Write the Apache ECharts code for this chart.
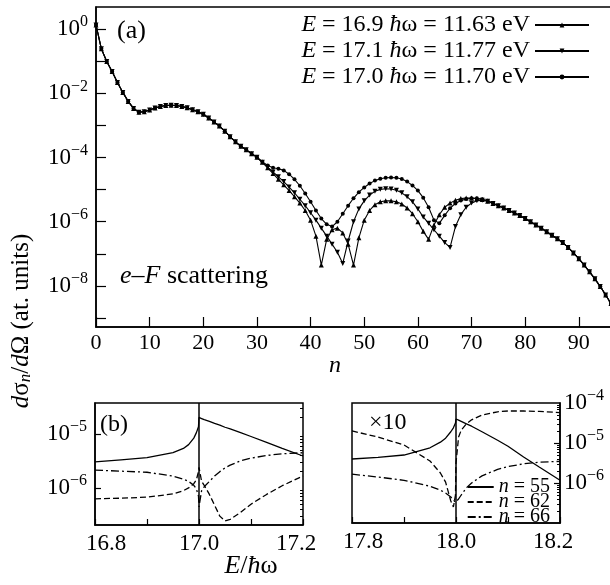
<!DOCTYPE html>
<html>
<head>
<meta charset="utf-8">
<script src="https://cdn.jsdelivr.net/npm/echarts@6/dist/echarts.min.js"></script>
<style>html,body{margin:0;padding:0;background:#fff}#chart{width:610px;height:585px}</style>
</head>
<body>
<div id="chart"></div>
<script>
// harmonic number n (panel a)
const nIndex = [0,1,2,3,4,5,6,7,8,9,10,11,12,13,14,15,16,17,18,19,20,21,22,23,24,25,26,27,28,29,30,
  31,32,33,34,35,36,37,38,39,40,41,42,43,44,45,46,47,48,49,50,51,52,53,54,55,56,57,58,59,60,
  61,62,63,64,65,66,67,68,69,70,71,72,73,74,75,76,77,78,79,80,81,82,83,84,85,86,87,88,89,90,
  91,92,93,94,95,96]

// n = 0..30, same for all three energies
const headAll = [1.35,2.45e-1,9.8e-2,4.79e-2,2.19e-2,1.07e-2,5.62e-3,3.39e-3,2.57e-3,2.69e-3,3.02e-3,
  3.47e-3,3.89e-3,4.17e-3,4.27e-3,4.17e-3,3.89e-3,3.55e-3,3.09e-3,2.69e-3,2.24e-3,
  1.70e-3,1.29e-3,9.55e-4,6.61e-4,4.47e-4,3.09e-4,2.24e-4,1.74e-4,1.32e-4,1.02e-4]
// n = 31..74
const mid169 = [7.08e-5,4.79e-5,3.16e-5,2.09e-5,1.41e-5,9.33e-6,6.03e-6,3.80e-6,2.24e-6,1.12e-6,
  3.55e-7,4.47e-8,2.82e-7,5.62e-7,6.31e-7,4.47e-7,2.00e-7,4.47e-8,3.16e-7,1.12e-6,
  2.24e-6,3.39e-6,4.17e-6,4.47e-6,4.47e-6,4.17e-6,3.55e-6,2.69e-6,1.78e-6,1.0e-6,
  5.01e-7,2.82e-7,7.94e-7,1.66e-6,2.82e-6,3.80e-6,4.68e-6,5.25e-6,5.50e-6,5.50e-6,
  5.25e-6,4.90e-6,4.37e-6,3.72e-6]
const mid171 = [7.08e-5,5.01e-5,3.55e-5,2.51e-5,1.78e-5,1.20e-5,7.94e-6,5.01e-6,3.16e-6,1.91e-6,
  1.12e-6,6.31e-7,3.55e-7,2.00e-7,1.12e-7,5.01e-8,2.51e-7,1.0e-6,2.51e-6,4.47e-6,
  6.76e-6,8.91e-6,1.02e-5,1.07e-5,1.05e-5,9.55e-6,7.94e-6,6.03e-6,4.17e-6,2.51e-6,
  1.41e-6,8.91e-7,5.62e-7,3.55e-7,2.24e-7,1.58e-7,7.08e-7,1.66e-6,2.82e-6,3.80e-6,
  4.47e-6,4.68e-6,4.37e-6,3.72e-6]
const mid170 = [7.41e-5,5.62e-5,4.79e-5,4.47e-5,3.98e-5,3.02e-5,2.09e-5,1.32e-5,7.59e-6,4.17e-6,
  2.24e-6,1.26e-6,8.32e-7,7.08e-7,1.0e-6,1.78e-6,3.16e-6,5.37e-6,8.32e-6,1.17e-5,
  1.55e-5,1.91e-5,2.19e-5,2.34e-5,2.40e-5,2.34e-5,2.14e-5,1.78e-5,1.35e-5,9.33e-6,
  5.62e-6,2.82e-6,1.12e-6,8.91e-7,1.58e-6,2.63e-6,3.72e-6,4.57e-6,5.13e-6,5.37e-6,
  5.37e-6,5.01e-6,4.47e-6,3.80e-6]
// n = 75..96, same for all three
const tailAll = [3.16e-6,2.69e-6,2.24e-6,1.86e-6,1.55e-6,1.26e-6,1.0e-6,7.94e-7,6.31e-7,4.90e-7,
  3.80e-7,2.95e-7,2.24e-7,1.58e-7,1.07e-7,7.08e-8,4.47e-8,2.75e-8,1.66e-8,9.55e-9,5.25e-9,2.82e-9]

const names = ['E = 16.9 ħω = 11.63 eV', 'E = 17.1 ħω = 11.77 eV', 'E = 17.0 ħω = 11.70 eV']

// panel (b), left: E/ħω near 17
const eLeft = [16.80,16.85,16.90,16.95,16.97,16.98,16.99,16.995,16.999,17.0,17.005,17.01,17.02,17.03,17.04,17.05,17.06,17.08,17.10,17.13,17.16,17.20]
const n55Left = [3.02e-6,3.31e-6,3.63e-6,4.47e-6,5.37e-6,6.31e-6,8.32e-6,1.05e-5,1.35e-5,2.00e-5,1.91e-5,1.82e-5,1.70e-5,1.55e-5,1.45e-5,1.32e-5,1.23e-5,1.05e-5,8.91e-6,6.92e-6,5.37e-6,3.89e-6]
const n62Left = [6.31e-7,6.46e-7,6.76e-7,7.76e-7,8.91e-7,1.0e-6,1.20e-6,1.41e-6,2.00e-6,2.40e-6,1.32e-6,1.12e-6,7.59e-7,4.79e-7,3.02e-7,2.45e-7,2.63e-7,3.55e-7,5.01e-7,7.59e-7,1.10e-6,1.66e-6]
const n66Left = [2.14e-6,2.04e-6,1.95e-6,1.66e-6,1.45e-6,1.32e-6,1.12e-6,9.55e-7,7.08e-7,4.47e-7,8.91e-7,1.05e-6,1.32e-6,1.66e-6,2.00e-6,2.34e-6,2.63e-6,3.16e-6,3.55e-6,3.98e-6,4.27e-6,4.47e-6]

// panel (b), right: E/ħω near 18 (x10)
const eRight = [17.80,17.85,17.90,17.95,17.97,17.98,17.99,17.995,17.999,18.0,18.005,18.01,18.02,18.03,18.05,18.08,18.10,18.13,18.16,18.20]
const n55Right = [3.98e-6,4.37e-6,5.01e-6,7.59e-6,1.05e-5,1.32e-5,1.91e-5,2.40e-5,3.16e-5,3.98e-5,3.72e-5,3.47e-5,3.02e-5,2.63e-5,1.91e-5,1.17e-5,8.32e-6,4.47e-6,2.51e-6,1.17e-6]
const n62Right = [2.00e-5,1.41e-5,8.91e-6,3.55e-6,1.78e-6,1.05e-6,3.55e-7,2.51e-7,5.01e-7,3.16e-6,1.41e-5,2.09e-5,3.02e-5,3.80e-5,5.01e-5,6.03e-5,6.31e-5,6.31e-5,6.17e-5,5.75e-5]
const n66Right = [1.66e-6,1.41e-6,1.17e-6,8.32e-7,6.61e-7,5.62e-7,4.47e-7,3.80e-7,3.31e-7,3.16e-7,3.98e-7,5.01e-7,7.59e-7,1.0e-6,1.51e-6,2.19e-6,2.57e-6,3.02e-6,3.31e-6,3.47e-6]

const decadesA = [1e-9,1e-8,1e-7,1e-6,1e-5,1e-4,1e-3,1e-2,1e-1,1]
const labelsA = [1e-8,1e-6,1e-4,1e-2,1]
const minorLeft = [3e-7,4e-7,5e-7,6e-7,7e-7,8e-7,9e-7,2e-6,3e-6,4e-6,5e-6,6e-6,7e-6,8e-6,9e-6,2e-5,3e-5]
const minorRight = [2e-7,3e-7,4e-7,5e-7,6e-7,7e-7,8e-7,9e-7,2e-6,3e-6,4e-6,5e-6,6e-6,7e-6,8e-6,9e-6,2e-5,3e-5,4e-5,5e-5,6e-5,7e-5,8e-5,9e-5]

const font = 'Liberation Serif'
const chart = echarts.init(document.getElementById('chart'))

function powLabel (v) {
	const e = Math.round(Math.log10(v))
	return '{b|10}{s|' + (e < 0 ? '\u2212' + (-e) : e) + '}'
}
const richPow = {
	b: { fontFamily: font, fontSize: 23, color: '#000', lineHeight: 23 },
	s: { fontFamily: font, fontSize: 16, color: '#000', lineHeight: 16, padding: [0, 0, 14, 0] }
}
const line = { lineStyle: { color: '#000', width: 1.5 } }

function pairs (xs, ys) {
	return xs.map((x, i) => [x, ys[i]])
}
function mainSeries (name, mid, symbol, rotate, size) {
	return {
		name: name, type: 'line', xAxisIndex: 0, yAxisIndex: 0,
		data: pairs(nIndex, headAll.concat(mid, tailAll)),
		symbol: symbol, symbolRotate: rotate, symbolSize: size,
		lineStyle: { color: '#000', width: 1.1 }, itemStyle: { color: '#000' }
	}
}
function smallSeries (name, xi, yi, xs, ys, dash, mark) {
	const s = {
		name: name, type: 'line', xAxisIndex: xi, yAxisIndex: yi,
		data: pairs(xs, ys), symbol: 'none',
		lineStyle: { color: '#000', width: 1.3, type: dash }, itemStyle: { color: '#000' }
	}
	if (mark != null) {
		s.markLine = { symbol: 'none', silent: true, label: { show: false },
			lineStyle: { color: '#000', type: 'solid', width: 1.5 }, data: [{ xAxis: mark }] }
	}
	return s
}
const tickFont = { fontFamily: font, fontSize: 23, color: '#000' }
const bAxisX = (min, max) => ({
	type: 'value', min: min, max: max, interval: 0.1,
	axisLine: line, splitLine: { show: false },
	axisTick: { inside: true, length: 6, lineStyle: { color: '#000', width: 1.2 } },
	axisLabel: Object.assign({ margin: 7,
		rich: { l: Object.assign({ padding: [0, 0, 0, 22] }, tickFont), r: Object.assign({ padding: [0, 14, 0, 0] }, tickFont) },
		formatter: v => {
			const k = Math.round(v * 10)
			if (k % 2 !== 0) return ''
			const s = (k / 10).toFixed(1)
			if (Math.abs(v - min) < 1e-6) return '{l|' + s + '}'
			if (Math.abs(v - max) < 1e-6) return '{r|' + s + '}'
			return s
		} }, tickFont)
})

chart.setOption({
	animation: false,
	grid: [
		{ left: 96, top: 7, width: 515, height: 320, show: true, borderColor: '#000', borderWidth: 1.5, outerBoundsMode: 'none' },
		{ left: 95, top: 403, width: 208, height: 122, show: true, borderColor: '#000', borderWidth: 1.5, outerBoundsMode: 'none' },
		{ left: 352, top: 403, width: 208, height: 120, show: true, borderColor: '#000', borderWidth: 1.5, outerBoundsMode: 'none' }
	],
	xAxis: [
		{ gridIndex: 0, type: 'value', min: 0, max: 96, interval: 10,
			axisLine: line, splitLine: { show: false },
			axisTick: { inside: true, length: 10, lineStyle: { color: '#000', width: 1.2 } },
			axisLabel: { fontFamily: font, fontSize: 22, color: '#000', margin: 5, showMaxLabel: false,
				formatter: v => v % 10 === 0 ? String(v) : '' } },
		Object.assign({ gridIndex: 1 }, bAxisX(16.8, 17.2)),
		Object.assign({ gridIndex: 2 }, bAxisX(17.8, 18.2))
	],
	yAxis: [
		{ gridIndex: 0, type: 'log', logBase: 10, min: 5.25e-10, max: 4.9,
			axisLine: line, splitLine: { show: false },
			axisTick: { inside: true, length: 10, customValues: decadesA, lineStyle: { color: '#000', width: 1.2 } },
			axisLabel: { customValues: labelsA, formatter: powLabel, rich: richPow, margin: 8 } },
		{ gridIndex: 1, type: 'log', logBase: 10, min: 2.07e-7, max: 3.7e-5,
			axisLine: line, splitLine: { show: false },
			axisTick: { inside: true, length: 6, customValues: [1e-6, 1e-5], lineStyle: { color: '#000', width: 1.2 } },
			axisLabel: { customValues: [1e-6, 1e-5], formatter: powLabel, rich: richPow, margin: 8 } },
		{ gridIndex: 1, type: 'log', logBase: 10, min: 2.07e-7, max: 3.7e-5,
			axisLine: { show: false }, splitLine: { show: false }, axisLabel: { show: false },
			axisTick: { inside: true, length: 3, customValues: minorLeft, lineStyle: { color: '#000', width: 1 } } },
		{ gridIndex: 2, type: 'log', logBase: 10, min: 1e-7, max: 1e-4, position: 'right',
			axisLine: line, splitLine: { show: false },
			axisTick: { inside: true, length: 6, customValues: [1e-6, 1e-5], lineStyle: { color: '#000', width: 1.2 } },
			axisLabel: { customValues: [1e-6, 1e-5, 1e-4], formatter: powLabel, rich: richPow, margin: 4 } },
		{ gridIndex: 2, type: 'log', logBase: 10, min: 1e-7, max: 1e-4, position: 'right',
			axisLine: { show: false }, splitLine: { show: false }, axisLabel: { show: false },
			axisTick: { inside: true, length: 3, customValues: minorRight, lineStyle: { color: '#000', width: 1 } } }
	],
	legend: [
		{ data: names, orient: 'vertical', right: 20, top: 13, align: 'right', selectedMode: false,
			itemWidth: 54, itemHeight: 6, itemGap: 2, padding: 0,
			textStyle: { fontFamily: font, fontSize: 24, color: '#000', lineHeight: 22,
				rich: { i: { fontFamily: font, fontSize: 24, fontStyle: 'italic', color: '#000', lineHeight: 22 } } },
			formatter: name => name.replace('E', '{i|E}').replace('ħ', '{i|ħ}') },
		{ data: ['n = 55', 'n = 62', 'n = 66'], orient: 'vertical', right: 60, top: 477, align: 'left', selectedMode: false,
			itemWidth: 26, itemHeight: 10, itemGap: -5, padding: 0, itemStyle: { opacity: 0 },
			textStyle: { fontFamily: font, fontSize: 20, color: '#000', lineHeight: 15,
				rich: { i: { fontFamily: font, fontSize: 20, fontStyle: 'italic', color: '#000', lineHeight: 15 } } },
			formatter: name => name.replace('n', '{i|n}') }
	],
	graphic: [
		{ type: 'text', x: 117, y: 31, style: { text: '(a)', font: '26px "Liberation Serif"', fill: '#000', verticalAlign: 'middle' } },
		{ type: 'text', x: 120, y: 276, style: { text: '{i|e}–{i|F} scattering', font: '26px "Liberation Serif"', fill: '#000', verticalAlign: 'middle',
			rich: { i: { fontFamily: font, fontSize: 26, fontStyle: 'italic', fill: '#000' } } } },
		{ type: 'text', x: 335, y: 366, style: { text: 'n', font: 'italic 24px "Liberation Serif"', fill: '#000', align: 'center', verticalAlign: 'middle' } },
		{ type: 'text', x: 100, y: 425, style: { text: '(b)', font: '24px "Liberation Serif"', fill: '#000', verticalAlign: 'middle' } },
		{ type: 'text', x: 369, y: 423, style: { text: '×10', font: '24px "Liberation Serif"', fill: '#000', verticalAlign: 'middle' } },
		{ type: 'text', x: 251, y: 566, style: { text: '{i|E}/{i|ħ}ω', font: '26px "Liberation Serif"', fill: '#000', align: 'center', verticalAlign: 'middle',
			rich: { i: { fontFamily: font, fontSize: 26, fontStyle: 'italic', fill: '#000' } } } },
		{ type: 'text', x: 21, y: 321, rotation: Math.PI / 2,
			style: { text: '{i|d}σ{sub|n}/{i|d}Ω (at. units)', font: '25px "Liberation Serif"', fill: '#000', align: 'center', verticalAlign: 'middle',
				rich: {
					i: { fontFamily: font, fontSize: 25, fontStyle: 'italic', fill: '#000', lineHeight: 25 },
					sub: { fontFamily: font, fontSize: 17, fontStyle: 'italic', fill: '#000', lineHeight: 17, padding: [10, 0, 0, 0] }
				} } }
	],
	series: [
		mainSeries(names[0], mid169, 'triangle', 0, 5),
		mainSeries(names[1], mid171, 'triangle', 180, 5),
		mainSeries(names[2], mid170, 'circle', 0, 4),
		smallSeries('n = 55', 1, 1, eLeft, n55Left, 'solid', 17.0),
		smallSeries('n = 62', 1, 1, eLeft, n62Left, [6, 3], null),
		smallSeries('n = 66', 1, 1, eLeft, n66Left, [8, 3, 2, 3], null),
		smallSeries('n = 55', 2, 3, eRight, n55Right, 'solid', 18.0),
		smallSeries('n = 62', 2, 3, eRight, n62Right, [6, 3], null),
		smallSeries('n = 66', 2, 3, eRight, n66Right, [8, 3, 2, 3], null)
	]
})
</script>
</body>
</html>
